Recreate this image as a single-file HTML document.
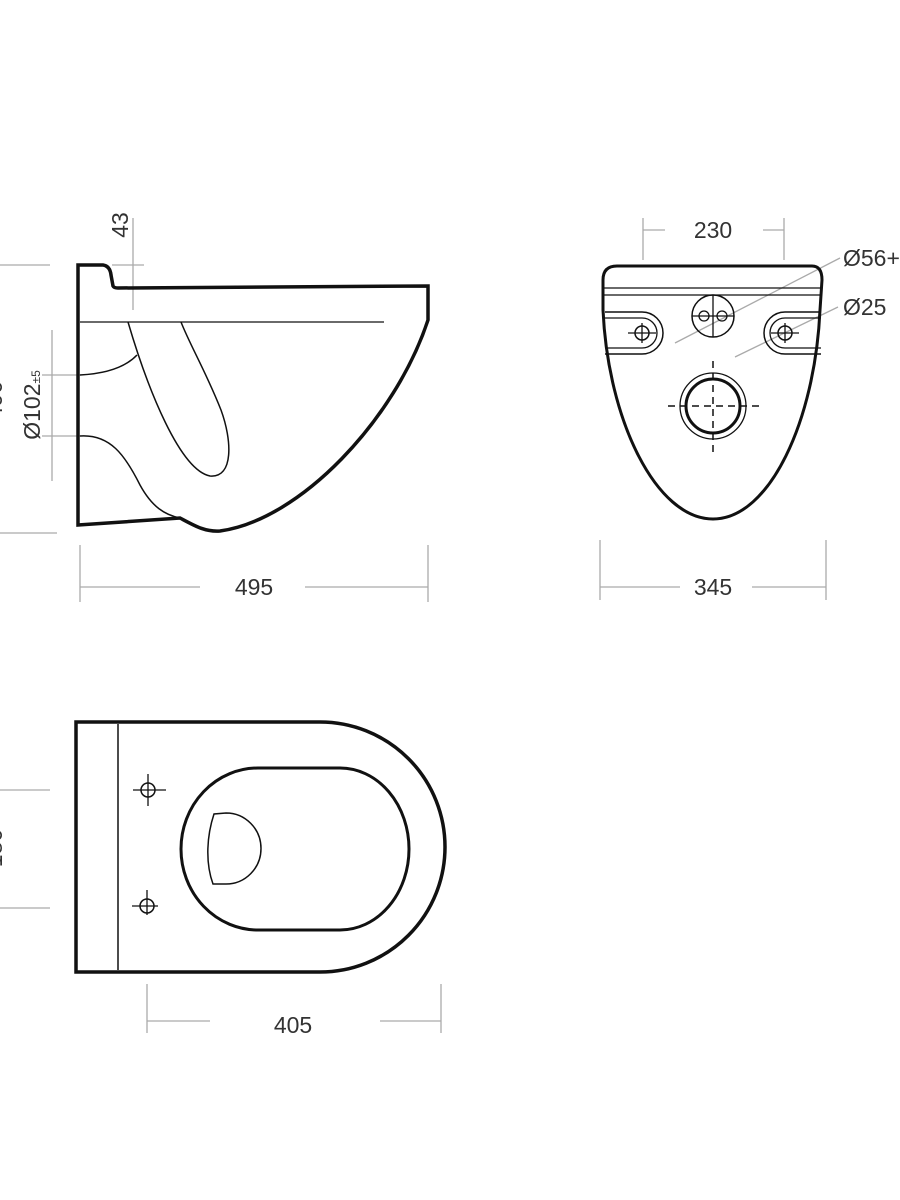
<!DOCTYPE html>
<html><head><meta charset="utf-8"><style>
html,body{margin:0;padding:0;background:#fff;}
svg{display:block;}
text{font-family:"Liberation Sans",sans-serif;fill:#333;font-size:23px;}
</style></head><body>
<svg width="900" height="1200" viewBox="0 0 900 1200" xmlns="http://www.w3.org/2000/svg">
<g fill="none" stroke="#aaa" stroke-width="1.3">
<line x1="0" y1="265" x2="50" y2="265"/>
<line x1="0" y1="533" x2="57" y2="533"/>
<line x1="133" y1="218" x2="133" y2="310"/>
<line x1="112" y1="265" x2="144" y2="265"/>
<line x1="52" y1="330" x2="52" y2="481"/>
<line x1="42" y1="375" x2="80" y2="375"/>
<line x1="42" y1="436" x2="80" y2="436"/>
<line x1="80" y1="545" x2="80" y2="602"/>
<line x1="428" y1="545" x2="428" y2="602"/>
<line x1="80" y1="587" x2="200" y2="587"/>
<line x1="305" y1="587" x2="428" y2="587"/>
<line x1="643" y1="218" x2="643" y2="260"/>
<line x1="784" y1="218" x2="784" y2="260"/>
<line x1="643" y1="230" x2="665" y2="230"/>
<line x1="763" y1="230" x2="784" y2="230"/>
<line x1="675" y1="343" x2="840" y2="258"/>
<line x1="735" y1="357" x2="838" y2="307"/>
<line x1="600" y1="540" x2="600" y2="600"/>
<line x1="826" y1="540" x2="826" y2="600"/>
<line x1="600" y1="587" x2="680" y2="587"/>
<line x1="752" y1="587" x2="826" y2="587"/>
<line x1="0" y1="790" x2="50" y2="790"/>
<line x1="0" y1="908" x2="50" y2="908"/>
<line x1="147" y1="984" x2="147" y2="1033"/>
<line x1="441" y1="984" x2="441" y2="1033"/>
<line x1="147" y1="1021" x2="210" y2="1021"/>
<line x1="380" y1="1021" x2="441" y2="1021"/>
</g>
<text x="254" y="595" text-anchor="middle">495</text>
<text x="713" y="238" text-anchor="middle">230</text>
<text x="713" y="595" text-anchor="middle">345</text>
<text x="293" y="1033" text-anchor="middle">405</text>
<text x="843" y="266">Ø56+</text>
<text x="843" y="315">Ø25</text>
<text transform="translate(128,225) rotate(-90)" text-anchor="middle">43</text>
<text transform="translate(40,405) rotate(-90)" text-anchor="middle">Ø102<tspan font-size="12">±5</tspan></text>
<text transform="translate(2,400) rotate(-90)" text-anchor="middle">490</text>
<text transform="translate(2,848) rotate(-90)" text-anchor="middle">180</text>

<g fill="none" stroke="#111">
<path stroke-width="3.5" d="M78,265 L103,265 Q110,266 111,275 L113,286 Q114,288 118,288 L428,286 L428,320 C395,420 300,520 220,531 C205,532 195,526 180,518 L78,525 Z"/>
<line stroke-width="1.3" x1="80" y1="322" x2="384" y2="322"/>
<path stroke-width="1.5" d="M128,322 C148,390 180,470 210,476 C234,478 232,440 221,410 C206,372 190,345 181,322"/>
<path stroke-width="1.5" d="M80,375 Q120,373 137,355"/>
<path stroke-width="1.5" d="M80,436 C110,434 125,455 140,485 C152,507 165,515 180,518"/>
</g>

<g fill="none" stroke="#111">
<path stroke-width="3" d="M617,266 L812,266 Q822,266 822,280 L820,310 C815,420 770,519 713,519 C656,519 608,420 603,310 L603,280 Q603,266 617,266 Z"/>
<line stroke-width="1.3" x1="604" y1="288" x2="821" y2="288"/>
<line stroke-width="1.3" x1="604" y1="295" x2="821" y2="295"/>
<circle stroke-width="1.5" cx="713" cy="316" r="21"/>
<circle stroke-width="1.3" cx="704" cy="316" r="5"/>
<circle stroke-width="1.3" cx="722" cy="316" r="5"/>
<line stroke-width="1.3" x1="713" y1="295" x2="713" y2="337"/>
<line stroke-width="1.3" x1="692" y1="316" x2="734" y2="316"/>
<path stroke-width="1.5" d="M605,312 L642,312 A21,21 0 0 1 642,354 L605,354"/>
<path stroke-width="1.3" d="M605,318 L642,318 A15,15 0 0 1 642,348 L605,348"/>
<circle stroke-width="1.5" cx="642" cy="333" r="7"/>
<line stroke-width="1.3" x1="628" y1="333" x2="656" y2="333"/>
<line stroke-width="1.3" x1="642" y1="323" x2="642" y2="343"/>
<path stroke-width="1.5" d="M821,312 L785,312 A21,21 0 0 0 785,354 L821,354"/>
<path stroke-width="1.3" d="M821,318 L785,318 A15,15 0 0 0 785,348 L821,348"/>
<circle stroke-width="1.5" cx="785" cy="333" r="7"/>
<line stroke-width="1.3" x1="771" y1="333" x2="799" y2="333"/>
<line stroke-width="1.3" x1="785" y1="323" x2="785" y2="343"/>
<circle stroke-width="1.3" cx="713" cy="406" r="33"/>
<circle stroke-width="3" cx="713" cy="406" r="27"/>
<line stroke-width="1.5" stroke-dasharray="7,5" x1="668" y1="406" x2="760" y2="406"/>
<line stroke-width="1.5" stroke-dasharray="7,5" x1="713" y1="361" x2="713" y2="456"/>
</g>

<g fill="none" stroke="#111">
<path stroke-width="3.5" d="M76,722 L320,722 A125,125 0 0 1 320,972 L76,972 Z"/>
<line stroke-width="1.5" x1="118" y1="724" x2="118" y2="970"/>
<path stroke-width="3" d="M258,768 L340,768 A69,81 0 0 1 340,930 L258,930 A77,81 0 0 1 258,768 Z"/>
<path stroke-width="1.5" d="M214,814 C207,835 205,862 213,884 L226,884 A35,35.5 0 0 0 226,813 Z"/>
<circle stroke-width="1.5" cx="148" cy="790" r="7"/>
<line stroke-width="1.3" x1="133" y1="790" x2="166" y2="790"/>
<line stroke-width="1.3" x1="148" y1="774" x2="148" y2="806"/>
<circle stroke-width="1.5" cx="147" cy="906" r="7"/>
<line stroke-width="1.3" x1="132" y1="906" x2="158" y2="906"/>
<line stroke-width="1.3" x1="147" y1="890" x2="147" y2="915"/>
</g>
</svg>
</body></html>
